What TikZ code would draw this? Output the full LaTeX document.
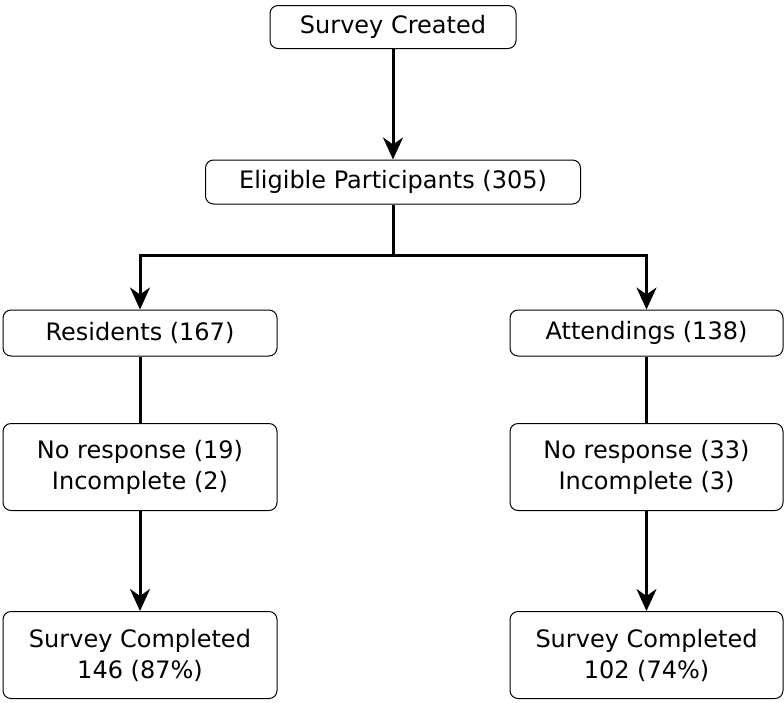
\documentclass[tikz,border=0pt]{standalone}
\usepackage{fontspec}
\setmainfont{DejaVu Sans}
\usetikzlibrary{arrows.meta,positioning}
\tikzset{
  box/.style={draw,rounded corners=8pt,line width=1pt,align=center,inner sep=0pt,
    font=\fontsize{24}{31}\selectfont},
  arr/.style={line width=3pt,-{Stealth[length=22pt,width=20pt,inset=7pt]}},
  lin/.style={line width=3pt}
}
\begin{document}
\begin{tikzpicture}[x=1pt,y=-1pt]
    \useasboundingbox (0,0) rectangle (784,702);

    % Top boxes
    \node[box,minimum width=246pt,minimum height=43pt] (created) at (393,27) {Survey Created};
    \node[box,minimum width=375pt,minimum height=44pt] (eligible) at (393,182) {Eligible Participants (305)};

    % Groups
    \node[box,minimum width=274pt,minimum height=46pt] (res) at (140,333) {Residents (167)};
    \node[box,minimum width=273pt,minimum height=46pt] (att) at (646.5,333) {Attendings (138)};

    % Drop-outs
    \node[box,minimum width=274pt,minimum height=87pt] (resdrop) at (140,467) {No response (19)\\Incomplete (2)};
    \node[box,minimum width=273pt,minimum height=87pt] (attdrop) at (646.5,467) {No response (33)\\Incomplete (3)};

    % Completed
    \node[box,minimum width=274pt,minimum height=87pt] (resdone) at (140,655) {Survey Completed\\146 (87\%)};
    \node[box,minimum width=273pt,minimum height=87pt] (attdone) at (646.5,655) {Survey Completed\\102 (74\%)};

    % Split point
    \coordinate (split) at (393,255);

    % Arrows
    \draw[arr] (created) -- (eligible);
    \draw[lin] (eligible) -- (split);
    \draw[arr] (split) -| (res);
    \draw[arr] (split) -| (att);
    \draw[lin] (res) -- (resdrop);
    \draw[lin] (att) -- (attdrop);
    \draw[arr] (resdrop) -- (resdone);
    \draw[arr] (attdrop) -- (attdone);
\end{tikzpicture}
\end{document}
